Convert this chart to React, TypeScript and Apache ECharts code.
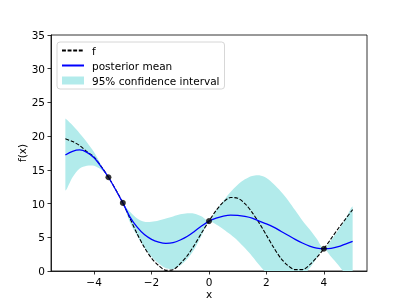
import React, { useEffect, useRef } from "react";
import * as echarts from "echarts";

const xs = [-5, -4.75, -4.5, -4.25, -4, -3.75, -3.5, -3.25, -3, -2.75, -2.5, -2.25, -2, -1.75, -1.5, -1.25, -1, -0.75, -0.5, -0.25, 0, 0.25, 0.5, 0.75, 1, 1.25, 1.5, 1.75, 2, 2.25, 2.5, 2.75, 3, 3.25, 3.5, 3.75, 4, 4.25, 4.5, 4.75, 5];

const fTrue = [19.6, 19.2, 18.6, 17.7, 16.9, 15.5, 13.9, 12.1, 10.1, 7.8, 5.5, 3.5, 1.9, 0.8, 0.1, 0.2, 1.1, 2.3, 3.9, 5.7, 7.4, 9.0, 10.2, 10.9, 10.8, 10.0, 8.7, 7.1, 5.3, 3.5, 1.9, 0.8, 0.2, 0.2, 0.9, 2.0, 3.3, 4.8, 6.3, 7.7, 9.1];

const postMean = [17.2, 17.75, 17.95, 17.6, 16.8, 15.45, 13.9, 12.05, 10.1, 8.0, 6.5, 5.4, 4.7, 4.3, 4.1, 4.2, 4.6, 5.15, 5.9, 6.7, 7.4, 7.85, 8.15, 8.3, 8.25, 8.1, 7.85, 7.4, 7.0, 6.5, 5.9, 5.3, 4.7, 4.15, 3.7, 3.4, 3.3, 3.35, 3.6, 4.0, 4.4];

const ciUpper = [22.6, 21.6, 20.4, 19.1, 17.6, 15.7, 13.9, 12.2, 10.1, 8.8, 7.8, 7.3, 7.3, 7.5, 7.8, 8.1, 8.4, 8.55, 8.5, 8.1, 7.4, 9.0, 10.4, 11.7, 12.8, 13.6, 14.1, 14.2, 13.8, 12.9, 11.8, 10.5, 9.0, 7.5, 6.2, 4.8, 3.3, 4.6, 6.0, 7.7, 9.5];

const ciLower = [12.0, 13.9, 15.2, 15.6, 15.6, 15.0, 13.9, 11.9, 10.1, 7.2, 5.2, 3.5, 2.1, 1.1, 0.4, 0.3, 0.8, 1.8, 3.3, 5.3, 7.4, 6.9, 6.2, 5.4, 4.5, 3.4, 2.2, 0.9, -0.3, -1.0, -1.5, -1.7, -1.5, -0.8, 0.4, 1.9, 3.3, 2.1, 0.9, -0.4, -1.0];

const obsX = [-3.5, -3, 0, 4];
const obsY = [13.9, 10.1, 7.4, 3.3];

const xTicks = [-4, -2, 0, 2, 4];

const FONT = "DejaVu Sans";
const BAND = "#b2ebeb";

export default function App() {
  const ref = useRef<HTMLDivElement>(null);
  useEffect(() => {
    if (!ref.current) return;
    const chart = echarts.init(ref.current, null, { renderer: "svg" });
    const pairs = (ys: number[]) => xs.map((x, i) => [x, ys[i]]);
    chart.setOption({
      animation: false,
      grid: {
        left: 51,
        top: 35,
        right: 40,
        bottom: 34,
        show: true,
        borderColor: "#000",
        borderWidth: 0.8,
        backgroundColor: "transparent",
      },
      legend: {
        left: 57,
        top: 42,
        orient: "vertical",
        itemWidth: 22,
        itemHeight: 8,
        itemGap: 4,
        padding: [3, 5, 3, 4],
        borderColor: "#cccccc",
        borderWidth: 0.8,
        borderRadius: 3,
        backgroundColor: "rgba(255,255,255,0.8)",
        textStyle: { fontFamily: FONT, fontSize: 10.5, color: "#000", padding: [0, 0, 0, 3] },
        data: [
          { name: "f", itemStyle: { opacity: 0, color: "rgba(0,0,0,0)", borderWidth: 0 } },
          { name: "posterior mean", itemStyle: { opacity: 0, color: "rgba(0,0,0,0)", borderWidth: 0 } },
          { name: "95% confidence interval", icon: "rect", itemStyle: { color: BAND } },
        ],
      },
      xAxis: {
        type: "value",
        min: -5.5,
        max: 5.5,
        name: "x",
        nameLocation: "middle",
        nameGap: 17,
        nameMoveOverlap: false,
        nameTextStyle: { fontFamily: FONT, fontSize: 10.5, color: "#000" },
        splitLine: { show: false },
        axisLine: { show: true, onZero: false, lineStyle: { color: "#000", width: 0.8 } },
        axisTick: { show: true, inside: false, length: 3.5, customValues: xTicks, lineStyle: { color: "#000", width: 0.8 } },
        axisLabel: {
          customValues: xTicks,
          margin: 5,
          fontFamily: FONT,
          fontSize: 10.5,
          color: "#000",
          formatter: (v: number) => (v < 0 ? "\u2212" + Math.abs(v) : String(v)),
        },
      },
      yAxis: {
        type: "value",
        min: 0,
        max: 35,
        interval: 5,
        name: "f(x)",
        nameLocation: "middle",
        nameGap: 24,
        nameMoveOverlap: false,
        nameTextStyle: { fontFamily: FONT, fontSize: 10.5, color: "#000" },
        splitLine: { show: false },
        axisLine: { show: true, onZero: false, lineStyle: { color: "#000", width: 0.8 } },
        axisTick: { show: true, inside: false, length: 3.5, lineStyle: { color: "#000", width: 0.8 } },
        axisLabel: { margin: 6, fontFamily: FONT, fontSize: 10.5, color: "#000" },
      },
      series: [
        {
          name: "95% confidence interval",
          type: "custom",
          clip: true,
          color: BAND,
          itemStyle: { color: BAND },
          data: [[0]],
          renderItem: (params: any, api: any) => {
            const top = xs.map((x, i) => api.coord([x, ciUpper[i]]));
            const bottom = xs.map((x, i) => api.coord([x, ciLower[i]])).reverse();
            const pts = top.concat(bottom);
            let x0 = Infinity, y0 = Infinity, x1 = -Infinity, y1 = -Infinity;
            pts.forEach((p: number[]) => {
              x0 = Math.min(x0, p[0]); x1 = Math.max(x1, p[0]);
              y0 = Math.min(y0, p[1]); y1 = Math.max(y1, p[1]);
            });
            return {
              type: "polygon",
              shape: { points: pts, smooth: 0.3, smoothConstraint: [[x0, y0], [x1, y1]] },
              style: { fill: BAND, stroke: "none" },
            };
          },
          z: 1,
        },
        {
          name: "f",
          type: "line",
          data: pairs(fTrue),
          symbol: "none",
          smooth: 0.3,
          color: "#000",
          lineStyle: { color: "#000", width: 1.1, type: [3.9, 1.7] },
          z: 3,
        },
        {
          name: "posterior mean",
          type: "line",
          data: pairs(postMean),
          symbol: "none",
          smooth: 0.3,
          color: "#0000ff",
          lineStyle: { color: "#0000ff", width: 1.3 },
          z: 4,
        },
        {
          name: "observations",
          type: "scatter",
          data: obsX.map((x, i) => [x, obsY[i]]),
          symbol: "circle",
          symbolSize: 6,
          itemStyle: { color: "#000" },
          z: 5,
        },
      ],
    });
    return () => chart.dispose();
  }, []);
  return <div ref={ref} style={{ position: "fixed", left: 0, top: 0, width: 407, height: 305 }} />;
}
